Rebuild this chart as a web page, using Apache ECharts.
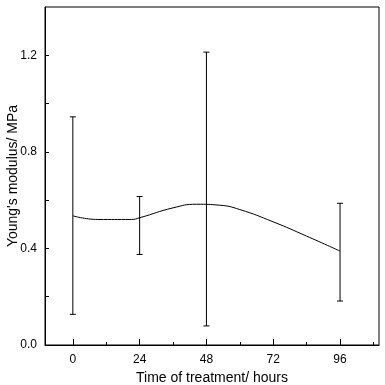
<!DOCTYPE html>
<html>
<head>
<meta charset="utf-8">
<script src="https://cdn.jsdelivr.net/npm/echarts@6/dist/echarts.min.js"></script>
<style>
  html, body { margin: 0; padding: 0; background: #fff; }
  #chart { width: 385px; height: 385px; }
</style>
</head>
<body>
<div id="chart"></div>
<script>
// error bars at each treatment time: [hours, low, high]
const times = [0, 24, 48, 96];
const errLow = [0.127, 0.375, 0.079, 0.182];
const errHigh = [0.945, 0.615, 1.213, 0.587];

// smoothed fit curve
const curveX = [0, 9, 21, 24, 36, 44.4, 52.8, 60, 72, 84, 96];
const curveY = [0.535, 0.520, 0.520, 0.527, 0.568, 0.583, 0.579, 0.561, 0.510, 0.451, 0.389];

const xLabels = [0, 24, 48, 72, 96];
const xMinor = [12, 36, 60, 84, 108];
const yLabels = [0, 0.4, 0.8, 1.2];
const yTicks = [0, 0.2, 0.4, 0.6, 0.8, 1.0, 1.2];

const chart = echarts.init(document.getElementById('chart'));
const font = 'Liberation Sans, Arial, sans-serif';

let errData = times.map((t, i) => [t, errLow[i], errHigh[i]]);
let curveData = curveX.map((x, i) => [x, curveY[i]]);

chart.setOption({
  animation: false,
  grid: {
    left: 45, right: 6, top: 7, bottom: 40,
    outerBoundsMode: 'none',
    containLabel: false,
    show: true, borderColor: '#000', borderWidth: 1
  },
  xAxis: [{
    type: 'value',
    min: -10,
    max: 110,
    name: 'Time of treatment/ hours',
    nameLocation: 'middle',
    nameGap: 26,
    nameMoveOverlap: false,
    nameTextStyle: { color: '#000', fontSize: 14, fontFamily: font },
    axisLine: { show: true, onZero: false, lineStyle: { color: '#000', width: 1 } },
    axisTick: { show: true, inside: true, length: 6, customValues: xLabels, lineStyle: { color: '#000' } },
    axisLabel: { customValues: xLabels, color: '#000', fontSize: 12, fontFamily: font, margin: 9 },
    splitLine: { show: false }
  }, {
    type: 'value',
    min: -10,
    max: 110,
    position: 'bottom',
    axisLine: { show: false, onZero: false },
    axisTick: { show: true, inside: true, length: 3, customValues: xMinor, lineStyle: { color: '#000' } },
    axisLabel: { show: false },
    splitLine: { show: false }
  }],
  yAxis: {
    type: 'value',
    min: 0,
    max: 1.4,
    name: "Young's modulus/ MPa",
    nameLocation: 'middle',
    nameGap: 25,
    nameMoveOverlap: false,
    nameTextStyle: { color: '#000', fontSize: 14, fontFamily: font },
    axisLine: { show: true, onZero: false, lineStyle: { color: '#000', width: 1 } },
    axisTick: { show: true, inside: true, length: 4, customValues: yTicks, lineStyle: { color: '#000' } },
    axisLabel: {
      customValues: yLabels,
      color: '#000',
      fontSize: 12,
      fontFamily: font,
      margin: 8,
      formatter: v => v.toFixed(1)
    },
    splitLine: { show: false }
  },
  series: [{
    type: 'line',
    data: curveData,
    smooth: true,
    showSymbol: false,
    lineStyle: { color: '#000', width: 1 },
    z: 2
  }, {
    type: 'custom',
    data: errData,
    renderItem: (params, api) => {
      let top = api.coord([api.value(0), api.value(2)]);
      let bot = api.coord([api.value(0), api.value(1)]);
      let cap = 3;
      let style = { stroke: '#000', lineWidth: 1 };
      return {
        type: 'group',
        children: [
          { type: 'line', shape: { x1: top[0], y1: top[1], x2: bot[0], y2: bot[1] }, style: style },
          { type: 'line', shape: { x1: top[0] - cap, y1: top[1], x2: top[0] + cap, y2: top[1] }, style: style },
          { type: 'line', shape: { x1: bot[0] - cap, y1: bot[1], x2: bot[0] + cap, y2: bot[1] }, style: style }
        ]
      };
    },
    z: 3
  }]
});
</script>
</body>
</html>
